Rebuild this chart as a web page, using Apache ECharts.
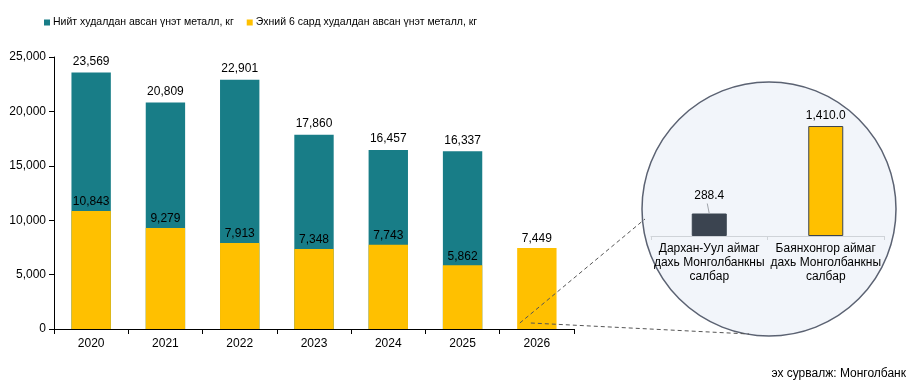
<!DOCTYPE html>
<html>
<head>
<meta charset="utf-8">
<script src="https://cdn.jsdelivr.net/npm/echarts@6/dist/echarts.min.js"></script>
<style>
  html, body { margin: 0; padding: 0; background: #fff; }
  #main { width: 915px; height: 386px; }
</style>
</head>
<body>
<div id="main"></div>
<script>
// main chart data
var years = ['2020', '2021', '2022', '2023', '2024', '2025', '2026'];
var totalBought = [23569, 20809, 22901, 17860, 16457, 16337, null];
var firstHalf = [10843, 9279, 7913, 7348, 7743, 5862, 7449];
var yTicks = [0, 5000, 10000, 15000, 20000, 25000];

// inset (2026 by branch)
var branches = ['Дархан-Уул аймаг\nдахь Монголбанкны\nсалбар', 'Баянхонгор аймаг\nдахь Монголбанкны\nсалбар'];
var branchValues = [288.4, 1410.0];

var seriesNames = ['Нийт худалдан авсан үнэт металл, кг', 'Эхний 6 сард худалдан авсан үнэт металл, кг'];

var font = 'Liberation Sans, Arial, sans-serif';
var teal = '#187d87';
var yellow = '#ffc000';

var chart = echarts.init(document.getElementById('main'));

function fmt(v) {
    return echarts.format.addCommas(v);
}

var option = {
    animation: false,
    textStyle: { fontFamily: font, color: '#000' },
    legend: {
        left: 39,
        top: 12,
        itemWidth: 6,
        itemHeight: 6,
        itemGap: 13,
        icon: 'rect',
        textStyle: { fontSize: 10.5, color: '#000', fontFamily: font, padding: [0, 0, 0, -2] },
        data: seriesNames
    },
    grid: [
        { left: 54, right: 341, top: 57, bottom: 57 },
        { left: 651, right: 31, top: 80, bottom: 150 }
    ],
    xAxis: [{
        gridIndex: 0,
        type: 'category',
        data: years,
        axisLine: { lineStyle: { color: '#000' } },
        axisTick: { show: true, length: 5, lineStyle: { color: '#000' } },
        axisLabel: { fontSize: 12, color: '#000', margin: 9 }
    }, {
        gridIndex: 1,
        type: 'category',
        data: branches,
        axisLine: { lineStyle: { color: '#cfd3d8' } },
        axisTick: { show: true, length: 4, lineStyle: { color: '#cfd3d8' } },
        axisLabel: { fontSize: 12, color: '#000', margin: 6, lineHeight: 14, interval: 0 }
    }],
    yAxis: [{
        gridIndex: 0,
        type: 'value',
        min: yTicks[0],
        max: yTicks[yTicks.length - 1],
        interval: 5000,
        splitLine: { show: false },
        axisLine: { show: true, lineStyle: { color: '#000' } },
        axisTick: { show: true, length: 5, lineStyle: { color: '#000' } },
        axisLabel: { fontSize: 12, color: '#000', margin: 8, formatter: fmt }
    }, {
        gridIndex: 1,
        type: 'value',
        min: 0,
        max: 2000,
        show: false
    }],
    series: [{
        name: seriesNames[0],
        type: 'bar',
        xAxisIndex: 0,
        yAxisIndex: 0,
        data: totalBought,
        barWidth: '53%',
        barGap: '-100%',
        itemStyle: { color: teal },
        label: { show: true, position: 'top', distance: 5, fontSize: 12, color: '#000', formatter: function(p) { return fmt(p.value); } }
    }, {
        name: seriesNames[1],
        type: 'bar',
        xAxisIndex: 0,
        yAxisIndex: 0,
        data: firstHalf,
        barWidth: '53%',
        itemStyle: { color: yellow },
        label: { show: true, position: 'top', distance: 3, fontSize: 12, color: '#000', formatter: function(p) { return fmt(p.value); } }
    }, {
        name: 'inset',
        type: 'bar',
        xAxisIndex: 1,
        yAxisIndex: 1,
        barWidth: 35,
        z: 5,
        data: [
            { value: branchValues[0], itemStyle: { color: '#3b4450', borderColor: '#3b4450', borderWidth: 1 }, label: { distance: 12 } },
            { value: branchValues[1], itemStyle: { color: yellow, borderColor: '#3b4450', borderWidth: 1 } }
        ],
        label: { show: true, position: 'top', distance: 4, fontSize: 12, color: '#000', formatter: function(p) { return p.value.toLocaleString('en-US', { minimumFractionDigits: 1, maximumFractionDigits: 1 }); } }
    }],
    graphic: []
};

chart.setOption(option);

// magnifier circle + dashed connectors from the 2026 bar
var base = chart.convertToPixel({ xAxisIndex: 0, yAxisIndex: 0 }, ['2026', 0]);
var small = chart.convertToPixel({ xAxisIndex: 1, yAxisIndex: 1 }, [branches[0], branchValues[0]]);
var cx = 769, cy = 209, r = 127;
chart.setOption({
    graphic: [{
        type: 'circle',
        z: 0,
        shape: { cx: cx, cy: cy, r: r },
        style: { fill: '#f2f5fa', stroke: '#5b6272', lineWidth: 1.5 }
    }, {
        type: 'line',
        z: 10,
        shape: { x1: small[0] - 2, y1: small[1] - 10, x2: small[0], y2: small[1] },
        style: { stroke: '#a0a4aa', lineWidth: 1 }
    }, {
        type: 'line',
        z: 10,
        shape: { x1: base[0] - 17, y1: base[1] - 6, x2: cx - r + 3, y2: cy + 10 },
        style: { stroke: '#555', lineWidth: 1, lineDash: [4, 3] }
    }, {
        type: 'line',
        z: 10,
        shape: { x1: base[0] - 6, y1: base[1] - 6, x2: cx - 20, y2: cy + r - 2 },
        style: { stroke: '#555', lineWidth: 1, lineDash: [4, 3] }
    }, {
        type: 'text',
        right: 9,
        top: 368,
        style: { text: 'эх сурвалж: Монголбанк', fontSize: 12, fontFamily: font, fill: '#000' }
    }]
});
</script>
</body>
</html>
